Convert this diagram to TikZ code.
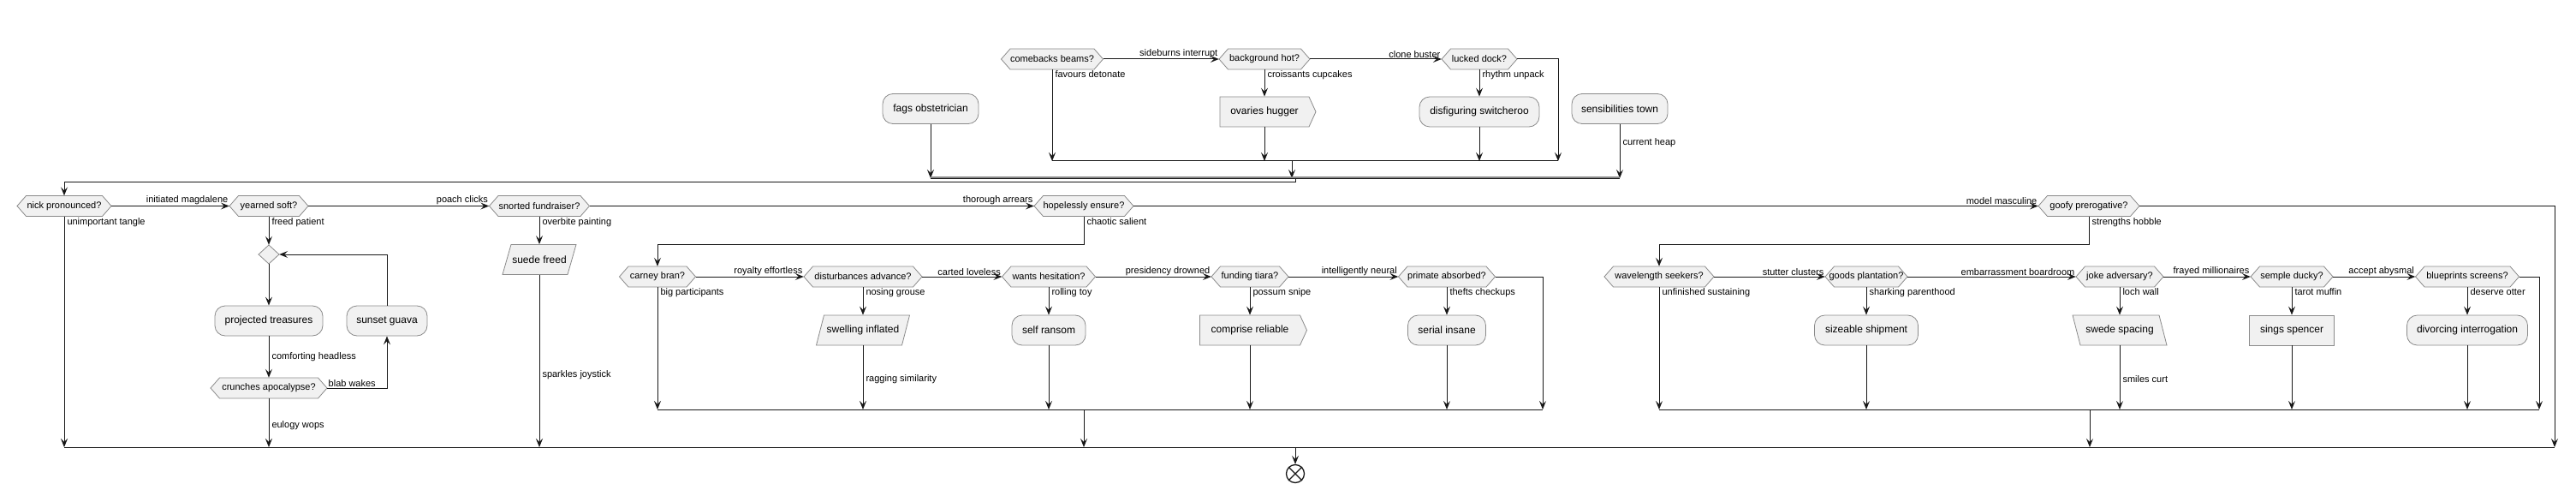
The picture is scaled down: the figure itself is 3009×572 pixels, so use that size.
\documentclass[tikz,border=0pt]{standalone}
\usepackage{fontspec}
\setmainfont{Liberation Sans}
\usetikzlibrary{arrows.meta}
\definecolor{nodefill}{HTML}{F1F1F1}
\definecolor{nodeline}{HTML}{8A8A8A}
\definecolor{ink}{HTML}{181818}
\tikzset{
  box/.style={draw=nodeline, fill=nodefill, line width=0.8pt, minimum height=35pt, inner sep=0pt, font=\fontsize{12}{14}\selectfont},
  rbox/.style={box, rounded corners=12pt},
  hexbox/.style={inner sep=0pt, minimum height=24pt, font=\fontsize{11}{13}\selectfont},
  shp/.style={draw=nodeline, fill=nodefill, line width=0.8pt},
  arr/.style={draw=ink, line width=1pt, -{Stealth[length=10pt,width=8pt,inset=4pt]}},
  ln/.style={draw=ink, line width=1pt},
  lab/.style={font=\fontsize{11}{13}\selectfont, inner sep=1pt},
  vlab/.style={lab, anchor=north west, xshift=2pt},
  mlab/.style={lab, anchor=west, xshift=2pt},
  hlab/.style={lab, anchor=south east, pos=1},
}
\newcommand\hexn[5]{%
  \path[shp] ({#2-#4},#3) -- ({#2-#4+10.5},{#3-12}) -- ({#2+#4-10.5},{#3-12}) -- ({#2+#4},#3) -- ({#2+#4-10.5},{#3+12}) -- ({#2-#4+10.5},{#3+12}) -- cycle;
  \node[hexbox, minimum width={2*#4pt}] (#1) at (#2,#3) {#5};}
\newcommand\sendn[5]{%
  \path[shp] ({#2-#4},{#3-17.5}) -- ({#2+#4},{#3-17.5}) -- ({#2+#4+8},#3) -- ({#2+#4},{#3+17.5}) -- ({#2-#4},{#3+17.5}) -- cycle;
  \node[box, draw=none, fill=none, minimum width={2*#4pt}] (#1) at (#2,#3) {#5};}
\newcommand\paraR[6]{%
  \path[shp] ({#2-#4},{#3+17.5}) -- ({#2-#4+#5},{#3-17.5}) -- ({#2+#4},{#3-17.5}) -- ({#2+#4-#5},{#3+17.5}) -- cycle;
  \node[box, draw=none, fill=none, minimum width={2*#4pt}] (#1) at (#2,#3) {#6};}
\newcommand\paraL[6]{%
  \path[shp] ({#2-#4},{#3-17.5}) -- ({#2+#4-#5},{#3-17.5}) -- ({#2+#4},{#3+17.5}) -- ({#2-#4+#5},{#3+17.5}) -- cycle;
  \node[box, draw=none, fill=none, minimum width={2*#4pt}] (#1) at (#2,#3) {#6};}
\begin{document}
\begin{tikzpicture}[x=1pt,y=-1pt]
\useasboundingbox (0,0) rectangle (3009,572);
% ---------- top split ----------
\hexn{cb}{1229}{69}{59.5}{comebacks beams?}
\hexn{bh}{1477}{69}{53}{background hot?}
\hexn{ld}{1728}{69}{44}{lucked dock?}
\sendn{oh}{1477}{130.5}{52}{ovaries hugger}
\node[rbox, minimum width=140pt] (ds) at (1728,130.5) {disfiguring switcheroo};
\node[rbox, minimum width=112pt] (fo) at (1087,127) {fags obstetrician};
\node[rbox, minimum width=112pt] (st) at (1892,127) {sensibilities town};
\coordinate (b1L) at (1229,188);
\coordinate (b1R) at (1820,188);
\coordinate (b1M) at (1509,188);
\coordinate (b2L) at (1087,208);
\coordinate (b2R) at (1892,208);
\coordinate (b2M) at (1509,208);
\coordinate (b2O) at (1513,208);
\coordinate (lp) at (1513,213);
\draw[arr] (cb.east) -- node[hlab]{sideburns interrupt} (bh.west);
\draw[arr] (bh.east) -- node[hlab]{clone buster} (ld.west);
\draw[arr] (bh.south) -- node[vlab, pos=0]{croissants cupcakes} (oh.north);
\draw[arr] (ld.south) -- node[vlab, pos=0]{rhythm unpack} (ds.north);
\draw[arr] (cb.south) -- node[vlab, pos=0]{favours detonate} (cb.south |- b1L);
\draw[arr] (oh.south) -- (oh.south |- b1L);
\draw[arr] (ds.south) -- (ds.south |- b1L);
\draw[arr] (ld.east) -- (ld.east -| b1R) -- (b1R);
\draw[ln] (b1L) -- (b1R);
\draw[arr] (b1M) -- (b2M);
\draw[arr] (fo.south) -- (b2L);
\draw[arr] (st.south) -- node[mlab, pos=0.35]{current heap} (b2R);
\draw[draw=nodeline, line width=1.6pt] ([yshift=0.9pt]b2L) -- ([yshift=0.9pt]b2R);
\draw[draw=ink, line width=0.9pt] ([yshift=-0.6pt]b2L) -- ([yshift=-0.6pt]b2R);
% ---------- main chain ----------
\hexn{nk}{75}{240.5}{55}{nick pronounced?}
\hexn{ys}{314}{240.5}{46}{yearned soft?}
\hexn{sf}{630}{240.5}{58.5}{snorted fundraiser?}
\hexn{he}{1266}{240.5}{58}{hopelessly ensure?}
\hexn{gp}{2440}{240.5}{59}{goofy prerogative?}
\draw[arr] (b2O) -- (lp) -- (lp -| nk.north) -- (nk.north);
\draw[arr] (nk.east) -- node[hlab]{initiated magdalene} (ys.west);
\draw[arr] (ys.east) -- node[hlab]{poach clicks} (sf.west);
\draw[arr] (sf.east) -- node[hlab]{thorough arrears} (he.west);
\draw[arr] (he.east) -- node[hlab]{model masculine} (gp.west);
% left loop
\path[shp] (302,297) -- (314,286) -- (326,297) -- (314,308) -- cycle;
\node[inner sep=0pt, minimum width=24pt, minimum height=22pt] (dm) at (314,297) {};
\node[rbox, minimum width=126pt] (pt) at (314,374.5) {projected treasures};
\node[rbox, minimum width=94pt] (sg) at (452,374.5) {sunset guava};
\hexn{ca}{314}{453}{68}{crunches apocalypse?}
\draw[arr] (ys.south) -- node[vlab, pos=0]{freed patient} (dm.north);
\draw[arr] (dm.south) -- (pt.north);
\draw[arr] (pt.south) -- node[mlab, pos=0.5]{comforting headless} (ca.north);
\draw[arr] (ca.east) -- node[lab, pos=0, anchor=south west]{blab wakes} (ca.east -| sg.south) -- (sg.south);
\draw[arr] (sg.north) -- (sg.north |- dm.east) -- (dm.east);
% suede freed
\paraR{sdf}{630}{303}{43}{10}{suede freed}
\draw[arr] (sf.south) -- node[vlab, pos=0]{overbite painting} (sdf.north);
% ---------- sub chain 1 ----------
\hexn{cn}{768}{323}{44.5}{carney bran?}
\hexn{da}{1008}{323}{69}{disturbances advance?}
\hexn{wh}{1225}{323}{54.5}{wants hesitation?}
\hexn{ft}{1460}{323}{45}{funding tiara?}
\hexn{pa}{1690}{323}{56.5}{primate absorbed?}
\paraR{si}{1008}{385.5}{54.5}{9}{swelling inflated}
\node[rbox, minimum width=86pt] (sr) at (1225,385.5) {self ransom};
\sendn{cr}{1460}{385.5}{58.5}{comprise reliable}
\node[rbox, minimum width=91pt] (sn) at (1690,385.5) {serial insane};
\draw[arr] (he.south) -- node[vlab, pos=0]{chaotic salient} (1266,285) -- (768,285) -- (cn.north);
\draw[arr] (cn.east) -- node[hlab]{royalty effortless} (da.west);
\draw[arr] (da.east) -- node[hlab]{carted loveless} (wh.west);
\draw[arr] (wh.east) -- node[hlab]{presidency drowned} (ft.west);
\draw[arr] (ft.east) -- node[hlab]{intelligently neural} (pa.west);
\draw[arr] (da.south) -- node[vlab, pos=0]{nosing grouse} (si.north);
\draw[arr] (wh.south) -- node[vlab, pos=0]{rolling toy} (sr.north);
\draw[arr] (ft.south) -- node[vlab, pos=0]{possum snipe} (cr.north);
\draw[arr] (pa.south) -- node[vlab, pos=0]{thefts checkups} (sn.north);
\coordinate (s1L) at (768,478);
\coordinate (s1R) at (1802,478);
\coordinate (s1M) at (1266,478);
\draw[arr] (cn.south) -- node[vlab, pos=0]{big participants} (s1L);
\draw[arr] (si.south) -- node[mlab, pos=0.53]{ragging similarity} (si.south |- s1L);
\draw[arr] (sr.south) -- (sr.south |- s1L);
\draw[arr] (cr.south) -- (cr.south |- s1L);
\draw[arr] (sn.south) -- (sn.south |- s1L);
\draw[arr] (pa.east) -- (pa.east -| s1R) -- (s1R);
\draw[ln] (s1L) -- (s1R);
% ---------- sub chain 2 ----------
\hexn{ws}{1938}{323}{64}{wavelength seekers?}
\hexn{gd}{2180}{323}{48}{goods plantation?}
\hexn{ja}{2476}{323}{51}{joke adversary?}
\hexn{sdk}{2677}{323}{48}{semple ducky?}
\hexn{bs}{2882}{323}{60.5}{blueprints screens?}
\node[rbox, minimum width=121pt] (ss) at (2180,385.5) {sizeable shipment};
\paraL{sw}{2476}{385.5}{55}{9}{swede spacing}
\node[box, minimum width=99pt] (sp) at (2677,385.5) {sings spencer};
\node[rbox, minimum width=141pt] (di) at (2882,385.5) {divorcing interrogation};
\draw[arr] (gp.south) -- node[vlab, pos=0]{strengths hobble} (2440,285) -- (1938,285) -- (ws.north);
\draw[arr] (ws.east) -- node[hlab]{stutter clusters} (gd.west);
\draw[arr] (gd.east) -- node[hlab]{embarrassment boardroom} (ja.west);
\draw[arr] (ja.east) -- node[hlab]{frayed millionaires} (sdk.west);
\draw[arr] (sdk.east) -- node[hlab]{accept abysmal} (bs.west);
\draw[arr] (gd.south) -- node[vlab, pos=0]{sharking parenthood} (ss.north);
\draw[arr] (ja.south) -- node[vlab, pos=0]{loch wall} (sw.north);
\draw[arr] (sdk.south) -- node[vlab, pos=0]{tarot muffin} (sp.north);
\draw[arr] (bs.south) -- node[vlab, pos=0]{deserve otter} (di.north);
\coordinate (s2L) at (1938,478);
\coordinate (s2R) at (2966,478);
\coordinate (s2M) at (2441,478);
\draw[arr] (ws.south) -- node[vlab, pos=0]{unfinished sustaining} (s2L);
\draw[arr] (ss.south) -- (ss.south |- s2L);
\draw[arr] (sw.south) -- node[mlab, pos=0.52]{smiles curt} (sw.south |- s2L);
\draw[arr] (sp.south) -- (sp.south |- s2L);
\draw[arr] (di.south) -- (di.south |- s2L);
\draw[arr] (bs.east) -- (bs.east -| s2R) -- (s2R);
\draw[ln] (s2L) -- (s2R);
% ---------- bottom merge ----------
\coordinate (bL) at (75,522);
\coordinate (bR) at (2984,522);
\coordinate (bM) at (1513,522);
\draw[arr] (nk.south) -- node[vlab, pos=0]{unimportant tangle} (bL);
\draw[arr] (ca.south) -- node[mlab, pos=0.55]{eulogy wops} (ca.south |- bL);
\draw[arr] (sdf.south) -- node[mlab, pos=0.58]{sparkles joystick} (sdf.south |- bL);
\draw[arr] (s1M) -- (s1M |- bL);
\draw[arr] (s2M) -- (s2M |- bL);
\draw[arr] (gp.east) -- (gp.east -| bR) -- (bR);
\draw[ln] (bL) -- (bR);
\node[circle, draw=ink, fill=white, line width=1.3pt, minimum size=21pt, inner sep=0pt] (end) at (1513,553) {};
\draw[draw=ink, line width=1.3pt] (end.north east) -- (end.south west) (end.north west) -- (end.south east);
\draw[arr] (bM) -- (end.north);
\end{tikzpicture}
\end{document}
